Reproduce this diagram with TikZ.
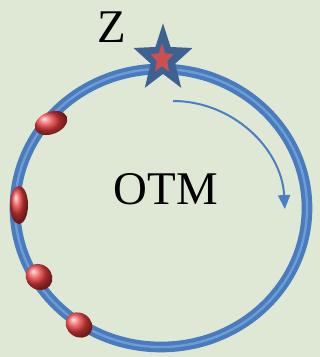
\documentclass[tikz,border=0pt]{standalone}
\usepackage{fontspec}
\setmainfont{Liberation Serif}
\usetikzlibrary{shapes.geometric,arrows.meta}
\definecolor{bgreen}{HTML}{DFE8D5}
\definecolor{ringblue}{HTML}{4A7BBB}
\definecolor{ringlight}{HTML}{6C9CDA}
\definecolor{stardark}{HTML}{3D6193}
\definecolor{starred}{HTML}{CC5050}
\definecolor{arrowblue}{HTML}{4A7FC4}
\definecolor{beadred}{HTML}{E63A3A}
\begin{document}
\begin{tikzpicture}[x=0.03cm,y=-0.03cm,every node/.style={font=\fontsize{40}{44}\selectfont}]
  \fill[bgreen] (0,0) rectangle (320,357);
  \useasboundingbox (0,0) rectangle (320,357);
  % ring
  \draw[ringblue,line width=0.32cm] (161,208) ellipse [x radius=146, y radius=139];
  \draw[ringlight,line width=0.07cm] (161,208) ellipse [x radius=146, y radius=139];
  % beads on the ring
  \shade[ball color=beadred,rotate around={22:(51,123)}] (51,123) ellipse [x radius=17, y radius=11];
  \shade[ball color=beadred] (19,205) ellipse [x radius=9, y radius=19];
  \shade[ball color=beadred,rotate around={-40:(39,277)}] (39,277) ellipse [x radius=14, y radius=12.5];
  \shade[ball color=beadred,rotate around={-35:(79,325)}] (79,325) ellipse [x radius=14, y radius=12];
  % start point
  \node[star,star points=5,star point ratio=2.4,minimum size=1.86cm,yscale=1.15,inner sep=0pt,fill=stardark] (zstar) at (163,59) {};
  \node[star,star points=5,star point ratio=2.2,minimum size=0.72cm,yscale=1.3,inner sep=0pt,fill=starred] (zcore) at (162,59) {};
  \node (zlabel) at (112,27) {Z};
  \node (otm) at (166,189) {OTM};
  % direction
  \draw[arrowblue,line width=0.06cm,-{Triangle[width=0.36cm,length=0.42cm]}] (173,101) arc[start angle=-90, end angle=-3, x radius=112, y radius=114];
\end{tikzpicture}
\end{document}
